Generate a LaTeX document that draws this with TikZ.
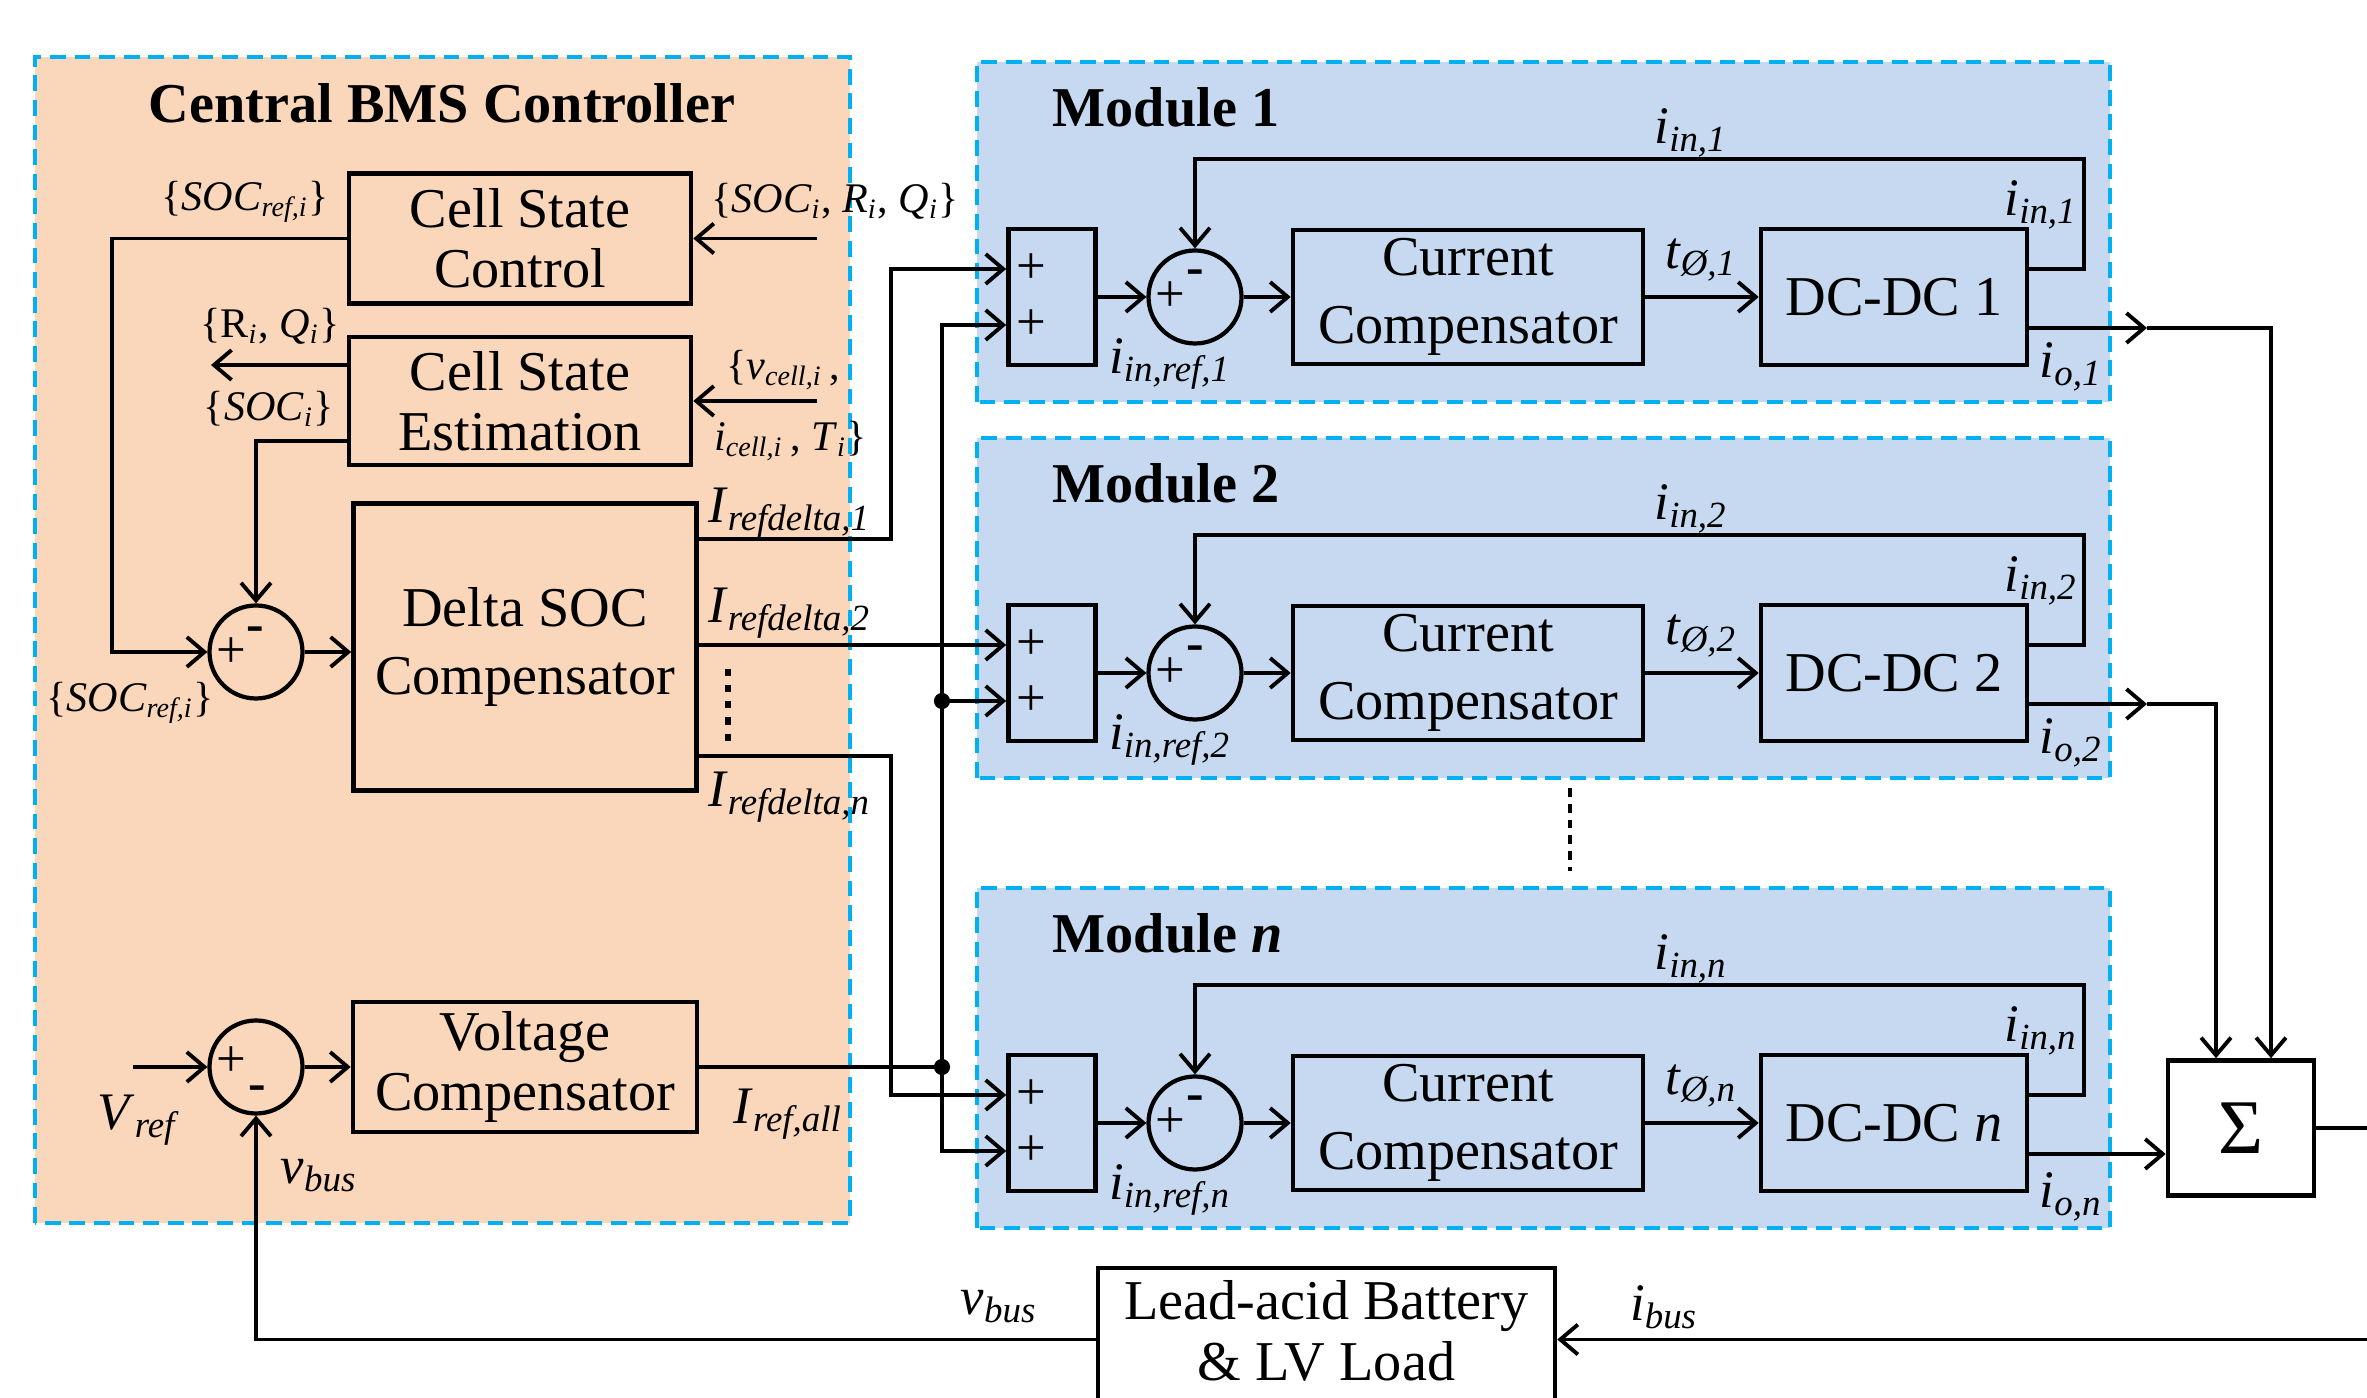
\documentclass[tikz,border=0pt]{standalone}
\usepackage{fontspec}
\setmainfont{Liberation Serif}
\usepackage{xcolor}
\definecolor{bmsorange}{RGB}{250,215,186}
\definecolor{modblue}{RGB}{198,217,240}
\definecolor{dashblue}{RGB}{0,176,240}
\usetikzlibrary{arrows.meta, calc}

\newcommand{\boxfont}{\fontsize{16}{17}\selectfont}
\newcommand{\wideboxfont}{\fontsize{16}{19.5}\selectfont}
\newcommand{\labfont}{\fontsize{15}{17}\selectfont}
\newcommand{\bracefont}{\fontsize{12}{14}\selectfont}
\newcommand{\isub}[2]{\textit{#1}\textsubscript{\textit{#2}}}

\tikzset{
  panel/.style={draw=dashblue, line width=0.9pt, dash pattern=on 4.5pt off 2.5pt},
  blk/.style={draw, line width=1.3pt, align=center, font=\boxfont, inner sep=2pt},
  sumc/.style={circle, draw, line width=1.2pt, minimum size=0.93cm, inner sep=0pt},
  wire/.style={line width=1.1pt},
  sig/.style={wire, -{Straight Barb[length=5pt, width=8.5pt]}},
  lab/.style={font=\labfont, inner sep=1pt},
  blab/.style={font=\bracefont, inner sep=1pt},
  sgn/.style={font=\fontsize{15}{15}\selectfont, inner sep=0pt},
  ttl/.style={font=\fontsize{16}{18}\selectfont\bfseries, inner sep=0pt},
}

\begin{document}
\begin{tikzpicture}
  \clip (0,0) rectangle (23.67,13.97);
  \fill[white] (0,0) rectangle (23.67,13.97);

  % Panel backgrounds
  \filldraw[panel, fill=bmsorange] (0.35,1.74) rectangle (8.50,13.40);
  \filldraw[panel, fill=modblue] (9.77,9.95) rectangle (21.10,13.35);
  \filldraw[panel, fill=modblue] (9.77,6.19) rectangle (21.10,9.59);
  \filldraw[panel, fill=modblue] (9.77,1.69) rectangle (21.10,5.09);

  % --- Central BMS controller ---
  \node[ttl] (bmstitle) at (4.42,12.94) {Central BMS Controller};
  \node[blk, minimum width=3.42cm, minimum height=1.30cm] (csc) at (5.20,11.585) {Cell State\\Control};
  \node[blk, minimum width=3.42cm, minimum height=1.28cm] (cse) at (5.20,9.96) {Cell State\\Estimation};
  \node[blk, font=\wideboxfont, minimum width=3.43cm, minimum height=2.87cm] (dsoc) at (5.25,7.50) {Delta SOC\\Compensator};
  \node[blk, minimum width=3.44cm, minimum height=1.30cm] (vc) at (5.25,3.30) {Voltage\\Compensator};
  \node[sumc] (sd) at (2.56,7.45) {};
  \node[sgn] (sdp) at (2.31,7.44) {+};
  \node[sgn] (sdm) at (2.55,7.63) {\textbf{-}};
  \node[sumc] (sv) at (2.56,3.30) {};
  \node[sgn] (svp) at (2.31,3.35) {+};
  \node[sgn] (svm) at (2.57,3.04) {\textbf{-}};

  \coordinate (socr) at (1.12,7.45);
  \draw[sig] (csc.west) -| (socr) -- (sd.west);
  \coordinate (rq) at (2.11,10.32);
  \draw[sig] (cse.west |- rq) -- (rq);
  \coordinate (soci) at (2.56,9.56);
  \draw[sig] (cse.west |- soci) -| (sd.north);
  \draw[sig] (sd.east) -- (sd.east -| dsoc.west);
  \coordinate (inq) at (8.17,11.585);
  \draw[sig] (inq) -- (csc.east);
  \coordinate (inm) at (8.17,9.96);
  \draw[sig] (inm) -- (cse.east);
  \coordinate (vref) at (1.33,3.30);
  \draw[sig] (vref) -- (sv.west);
  \draw[sig] (sv.east) -- (vc.west);

  \node[blab] (lsocr) at (2.45,11.95) {\{\isub{SOC}{ref,i}\}};
  \node[blab] (lsocrb) at (1.30,6.94) {\{\isub{SOC}{ref,i}\}};
  \node[blab] (lrq) at (2.70,10.71) {\{R\textsubscript{\textit{i}}, \isub{Q}{i}\}};
  \node[blab] (lsoci) at (2.69,9.88) {\{\isub{SOC}{i}\}};
  \node[blab, anchor=west] (lin) at (7.07,11.96) {\{\isub{SOC}{i}, \isub{R}{i}, \isub{Q}{i}\}};
  \node[blab, anchor=west] (lvc) at (7.22,10.27) {\{\isub{v}{cell,i}\,,};
  \node[blab, anchor=west] (lic) at (7.10,9.56) {\isub{i}{cell,i}\,, \isub{T}{i}\}};
  \node[lab, anchor=west] (lrd1) at (7.04,8.84) {\isub{I}{refdelta,1}};
  \node[lab, anchor=west] (lrd2) at (7.04,7.84) {\isub{I}{refdelta,2}};
  \node[lab, anchor=west] (lrdn) at (7.04,6.00) {\isub{I}{refdelta,n}};
  \node[lab] (lrall) at (7.88,2.83) {\isub{I}{ref,all}};
  \node[lab] (lvref) at (1.39,2.77) {\isub{V}{ref}};
  \node[lab] (lvbus) at (3.19,2.21) {\isub{v}{bus}};
  \draw[line width=1.8pt, dash pattern=on 2pt off 2.6pt] (7.28,7.28) -- (7.28,6.53);

  % --- Module 1 ---
  \node[ttl, anchor=west] (m1) at (10.52,12.90) {Module 1};
  \node[blk, minimum width=0.87cm, minimum height=1.36cm] (add1) at (10.52,11.00) {};
  \coordinate (a1t) at ($(add1.west)+(0,0.28)$);
  \coordinate (a1b) at ($(add1.west)+(0,-0.28)$);
  \node[sgn] (p1t) at (10.31,11.28) {+};
  \node[sgn] (p1b) at (10.31,10.72) {+};
  \node[sumc] (s1) at (11.95,11.00) {};
  \node[sgn] (s1p) at (11.70,11.00) {+};
  \node[sgn] (s1m) at (11.95,11.20) {\textbf{-}};
  \node[blk, font=\wideboxfont, minimum width=3.50cm, minimum height=1.34cm] (cc1) at (14.68,11.00) {Current\\Compensator};
  \node[blk, minimum width=2.66cm, minimum height=1.36cm] (dc1) at (18.94,11.00) {DC-DC 1};
  \draw[sig] (add1.east) -- (s1.west);
  \draw[sig] (s1.east) -- (cc1.west);
  \draw[sig] (cc1.east) -- (dc1.west);
  \coordinate (f1) at (20.84,12.38);
  \draw[sig] ($(dc1.east)+(0,0.28)$) -| (f1) -| (s1.north);
  \coordinate (o1) at (21.47,10.69);
  \draw[sig] (dc1.east |- o1) -- (o1);
  \node[lab] (li1a) at (16.91,12.64) {\isub{i}{in,1}};
  \node[lab] (li1b) at (20.41,11.92) {\isub{i}{in,1}};
  \node[lab] (lt1) at (17.01,11.37) {\isub{t}{Ø,1}};
  \node[lab] (lr1) at (11.70,10.33) {\isub{i}{in,ref,1}};
  \node[lab] (lo1) at (20.71,10.30) {\isub{i}{o,1}};

  % --- Module 2 ---
  \node[ttl, anchor=west] (m2) at (10.52,9.14) {Module 2};
  \node[blk, minimum width=0.87cm, minimum height=1.36cm] (add2) at (10.52,7.24) {};
  \coordinate (a2t) at ($(add2.west)+(0,0.28)$);
  \coordinate (a2b) at ($(add2.west)+(0,-0.28)$);
  \node[sgn] (p2t) at (10.31,7.52) {+};
  \node[sgn] (p2b) at (10.31,6.96) {+};
  \node[sumc] (s2) at (11.95,7.24) {};
  \node[sgn] (s2p) at (11.70,7.24) {+};
  \node[sgn] (s2m) at (11.95,7.44) {\textbf{-}};
  \node[blk, font=\wideboxfont, minimum width=3.50cm, minimum height=1.34cm] (cc2) at (14.68,7.24) {Current\\Compensator};
  \node[blk, minimum width=2.66cm, minimum height=1.36cm] (dc2) at (18.94,7.24) {DC-DC 2};
  \draw[sig] (add2.east) -- (s2.west);
  \draw[sig] (s2.east) -- (cc2.west);
  \draw[sig] (cc2.east) -- (dc2.west);
  \coordinate (f2) at (20.84,8.62);
  \draw[sig] ($(dc2.east)+(0,0.28)$) -| (f2) -| (s2.north);
  \coordinate (o2) at (21.47,6.93);
  \draw[sig] (dc2.east |- o2) -- (o2);
  \node[lab] (li2a) at (16.91,8.88) {\isub{i}{in,2}};
  \node[lab] (li2b) at (20.41,8.16) {\isub{i}{in,2}};
  \node[lab] (lt2) at (17.01,7.61) {\isub{t}{Ø,2}};
  \node[lab] (lr2) at (11.70,6.57) {\isub{i}{in,ref,2}};
  \node[lab] (lo2) at (20.71,6.54) {\isub{i}{o,2}};

  \draw[line width=1.2pt, dash pattern=on 2.5pt off 2pt] (15.70,6.09) -- (15.70,5.26);

  % --- Module n ---
  \node[ttl, anchor=west] (mn) at (10.52,4.64) {Module \textit{n}};
  \node[blk, minimum width=0.87cm, minimum height=1.36cm] (addn) at (10.52,2.74) {};
  \coordinate (ant) at ($(addn.west)+(0,0.28)$);
  \coordinate (anb) at ($(addn.west)+(0,-0.28)$);
  \node[sgn] (pnt) at (10.31,3.02) {+};
  \node[sgn] (pnb) at (10.31,2.46) {+};
  \node[sumc] (sn) at (11.95,2.74) {};
  \node[sgn] (snp) at (11.70,2.74) {+};
  \node[sgn] (snm) at (11.95,2.94) {\textbf{-}};
  \node[blk, font=\wideboxfont, minimum width=3.50cm, minimum height=1.34cm] (ccn) at (14.68,2.74) {Current\\Compensator};
  \node[blk, minimum width=2.66cm, minimum height=1.36cm] (dcn) at (18.94,2.74) {DC-DC \textit{n}};
  \draw[sig] (addn.east) -- (sn.west);
  \draw[sig] (sn.east) -- (ccn.west);
  \draw[sig] (ccn.east) -- (dcn.west);
  \coordinate (fn) at (20.84,4.12);
  \draw[sig] ($(dcn.east)+(0,0.28)$) -| (fn) -| (sn.north);
  \node[lab] (lina) at (16.91,4.38) {\isub{i}{in,n}};
  \node[lab] (linb) at (20.41,3.66) {\isub{i}{in,n}};
  \node[lab] (ltn) at (17.01,3.11) {\isub{t}{Ø,n}};
  \node[lab] (lrn) at (11.70,2.07) {\isub{i}{in,ref,n}};
  \node[lab] (lon) at (20.71,2.00) {\isub{i}{o,n}};

  % References into the modules
  \coordinate (t1) at (8.91,8.58);
  \draw[sig] (t1 -| dsoc.east) -- (t1) |- (a1t);
  \draw[sig] (a2t -| dsoc.east) -- (a2t);
  \coordinate (tn) at (8.91,6.41);
  \draw[sig] (tn -| dsoc.east) -- (tn) |- (ant);
  \coordinate (jall) at (9.42,3.30);
  \draw[wire] (vc.east) -- (jall);
  \draw[sig] (jall) |- (a1b);
  \draw[sig] (jall |- a2b) -- (a2b);
  \draw[sig] (jall) |- (anb);
  \fill (jall) circle (2.3pt);
  \fill (jall |- a2b) circle (2.3pt);

  % --- Sum and bus ---
  \node[blk, font=\fontsize{22}{24}\selectfont, minimum width=1.46cm, minimum height=1.35cm] (sum) at (22.41,2.69) {Σ};
  \draw[sig] (o1) -| ($(sum.north)+(0.30,0)$);
  \draw[sig] (o2) -| ($(sum.north)+(-0.25,0)$);
  \coordinate (on) at ($(dcn.east)+(0,-0.31)$);
  \draw[sig] (on) -- (on -| sum.west);
  \draw[wire] (sum.east) -- ++(2,0);

  \node[blk, font=\fontsize{16}{17.5}\selectfont, minimum width=4.57cm, minimum height=1.50cm] (bat) at (13.265,0.54) {};
  \node[font=\fontsize{16}{17.5}\selectfont, align=center, inner sep=0pt] (battxt) at (13.265,0.66) {Lead-acid Battery\\\& LV Load};
  \coordinate (vb) at (2.56,0.575);
  \draw[sig] (bat.west |- vb) -| (sv.south);
  \coordinate (ibus) at (24,0.575);
  \draw[sig] (ibus) -- (ibus -| bat.east);
  \node[lab] (lvb2) at (9.99,0.90) {\isub{v}{bus}};
  \node[lab] (libus) at (16.64,0.90) {\isub{i}{bus}};
\end{tikzpicture}
\end{document}
